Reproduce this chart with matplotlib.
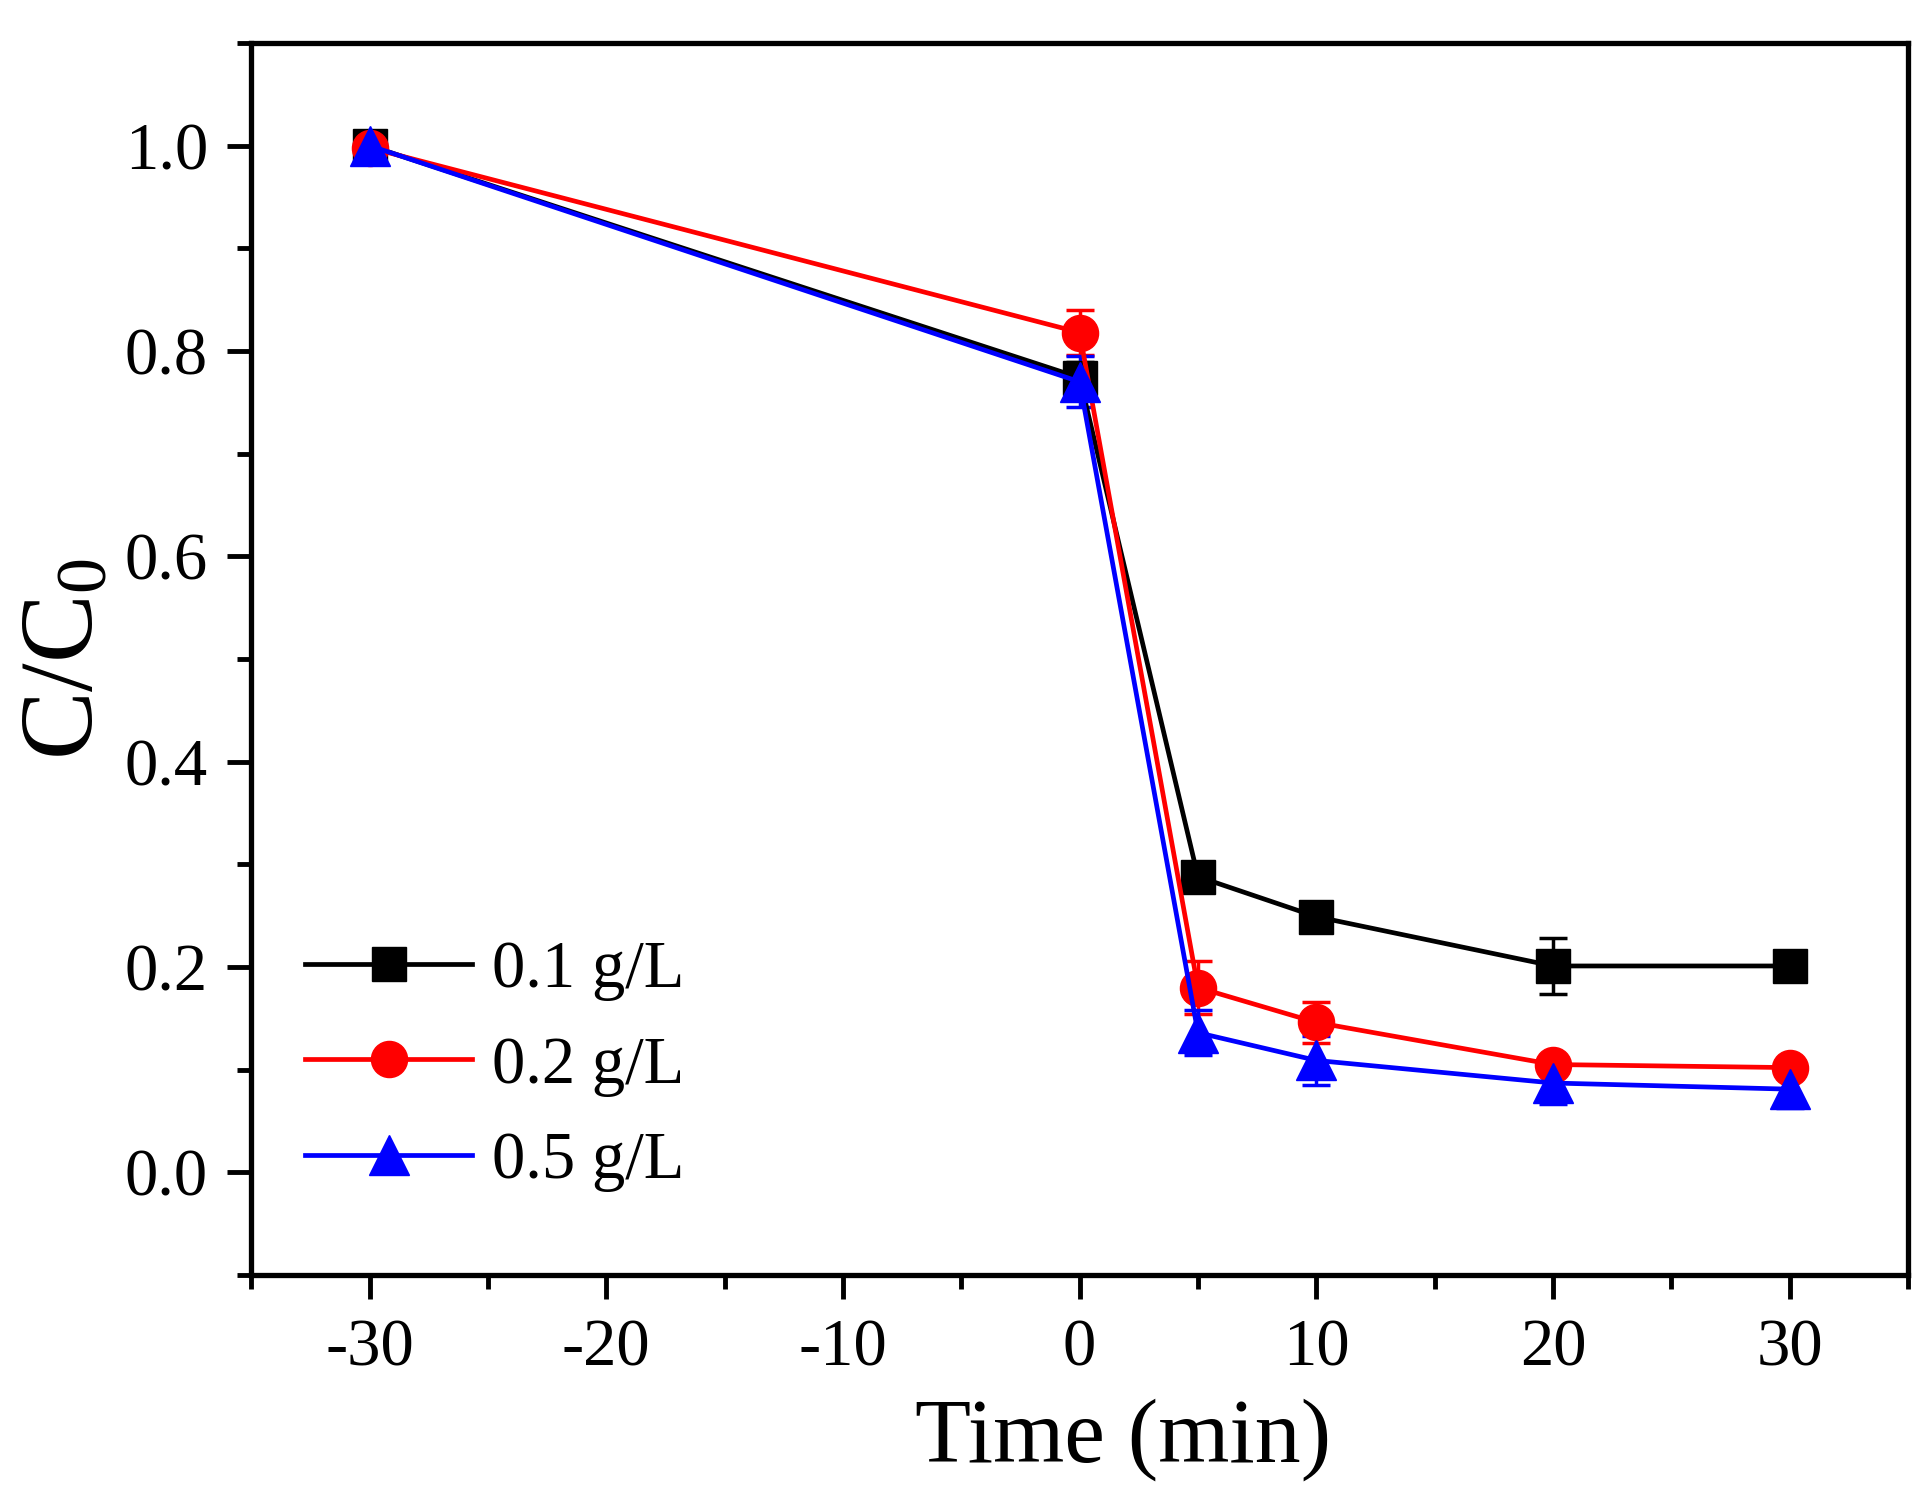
import numpy as np
import matplotlib
matplotlib.use("Agg")
import matplotlib.pyplot as plt
from matplotlib.ticker import MultipleLocator, FormatStrFormatter

# data
time_min = [-30, 0, 5, 10, 20, 30]
labels = ["0.1 g/L", "0.2 g/L", "0.5 g/L"]
c_01 = [1.000, 0.774, 0.288, 0.249, 0.201, 0.201]
c_02 = [0.998, 0.818, 0.180, 0.146, 0.105, 0.102]
c_05 = [1.000, 0.770, 0.136, 0.109, 0.087, 0.081]
err_01 = [0.008, 0.015, 0.012, 0.010, 0.027, 0.010]
err_02 = [0.008, 0.022, 0.026, 0.020, 0.008, 0.008]
err_05 = [0.006, 0.025, 0.022, 0.024, 0.020, 0.018]

plt.rcParams["font.family"] = ["Liberation Serif", "DejaVu Serif"]
plt.rcParams["mathtext.fontset"] = "custom"
plt.rcParams["mathtext.rm"] = "Liberation Serif"
plt.rcParams["mathtext.default"] = "regular"
plt.rcParams["axes.unicode_minus"] = False

fig = plt.figure(figsize=(19.32, 15.03), dpi=100)
ax = fig.add_axes([0.130, 0.1517, 0.8576, 0.8197])

series = [
    (c_01, err_01, "black", "s", 25),
    (c_02, err_02, "red", "o", 26),
    (c_05, err_05, "blue", "^", 29),
]
handles = []
for (vals, errs, col, mk, ms), lab in zip(series, labels):
    eb = ax.errorbar(time_min, vals, yerr=errs, color=col, marker=mk, markersize=ms,
                     linewidth=3.4, elinewidth=2.5, capsize=10, capthick=2.5,
                     label=lab)
    handles.append(eb[0])

ax.set_xlim(-35, 35)
ax.set_ylim(-0.1, 1.1)
ax.xaxis.set_major_locator(MultipleLocator(10))
ax.xaxis.set_minor_locator(MultipleLocator(5))
ax.yaxis.set_major_locator(MultipleLocator(0.2))
ax.yaxis.set_minor_locator(MultipleLocator(0.1))
ax.yaxis.set_major_formatter(FormatStrFormatter("%.1f"))

ax.tick_params(which="both", direction="out", top=False, right=False,
               width=3.5, labelsize=48)
ax.tick_params(which="major", length=17, pad=14)
ax.tick_params(which="minor", length=10)
for sp in ax.spines.values():
    sp.set_linewidth(3.8)

ax.set_xlabel("Time (min)", fontsize=66)
ax.xaxis.set_label_coords(0.526, -0.10)
ax.set_ylabel(r"C/C$_{0}$", fontsize=74, labelpad=8)

ax.legend(handles, labels, loc="center left", bbox_to_anchor=(0.0326, 0.1695),
          frameon=False, fontsize=48, handlelength=2.5,
          handletextpad=0.3, labelspacing=0.52, borderpad=0,
          borderaxespad=0)

fig.savefig("out.png", dpi=100)
